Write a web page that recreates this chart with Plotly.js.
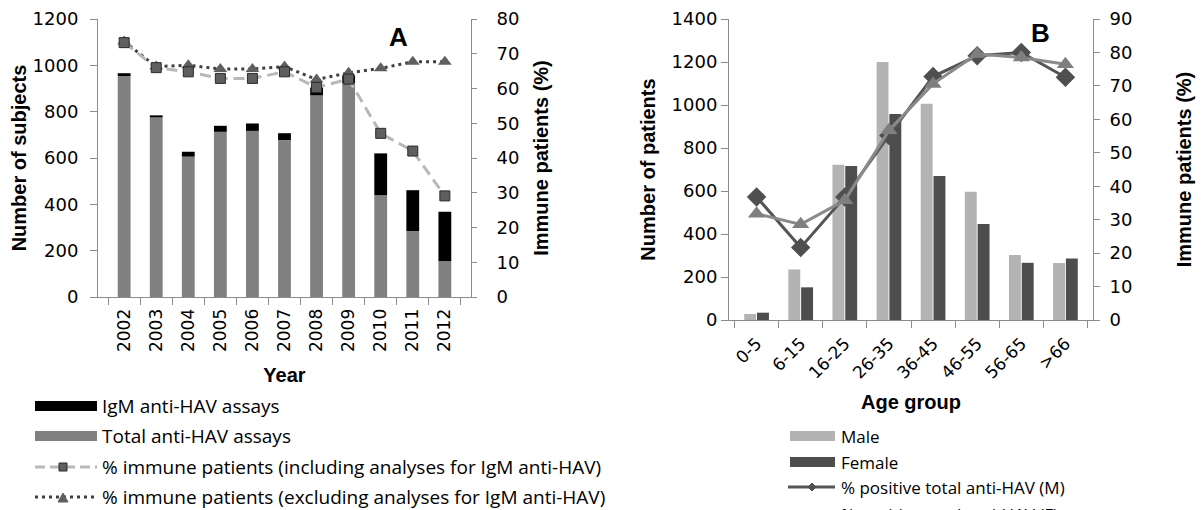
<!DOCTYPE html>
<html>
<head>
<meta charset="utf-8">
<script src="https://cdn.plot.ly/plotly-3.0.1.min.js"></script>
<style>html,body{margin:0;padding:0;background:#fff;}#chart{width:1204px;height:510px;}</style>
</head>
<body>
<div id="chart"></div>
<script>
// ---- Panel A data ----
const years = ['2002','2003','2004','2005','2006','2007','2008','2009','2010','2011','2012'];
const totalAssays = [954, 775, 606, 713, 717, 677, 870, 924, 440, 285, 155];
const igmAssays = [12, 9, 21, 26, 32, 30, 34, 30, 180, 176, 213];
const immuneIncl = [73.2, 66.0, 64.8, 62.9, 62.9, 64.8, 60.3, 62.7, 47.1, 42.0, 29.1];
const immuneExcl = [73.5, 66.3, 66.7, 65.6, 65.6, 66.3, 62.6, 64.5, 65.8, 67.7, 67.7];

// ---- Panel B data ----
const ageGroups = ['0-5','6-15','16-25','26-35','36-45','46-55','56-65','>66'];
const male = [28, 235, 722, 1200, 1006, 596, 302, 265];
const female = [34, 152, 716, 958, 670, 447, 266, 286];
const posMale = [36.8, 21.7, 36.8, 55.2, 72.8, 79.0, 80.0, 72.6];
const posFemale = [31.8, 28.6, 35.8, 56.7, 70.6, 79.5, 78.5, 76.5];

const W = 1204, H = 510;
const px = x => x / W;
const py = y => 1 - y / H;

const tickFont = {family: 'DejaVu Sans', size: 18, color: '#000'};
const titleFont = {family: 'Liberation Sans', size: 20, color: '#000', weight: 'bold'};
const legFontA = {family: 'Open Sans', size: 19, color: '#000'};
const legFontB = {family: 'Open Sans', size: 17, color: '#000'};
const axCol = '#8c8c8c';

const traces = [
  {type: 'bar', x: years, y: totalAssays, width: 0.4, marker: {color: '#808080'},
   xaxis: 'x', yaxis: 'y', name: 'Total anti-HAV assays', showlegend: false, hoverinfo: 'skip'},
  {type: 'bar', x: years, y: igmAssays, base: totalAssays, width: 0.4, marker: {color: '#000000'},
   xaxis: 'x', yaxis: 'y', name: 'IgM anti-HAV assays', showlegend: false, hoverinfo: 'skip'},
  {type: 'scatter', mode: 'lines+markers', x: years, y: immuneExcl, xaxis: 'x', yaxis: 'y2',
   line: {color: '#404040', width: 3, dash: '3px,4px'},
   marker: {symbol: 'triangle-up', size: 12, color: '#5f5f5f'},
   name: '% immune patients (excluding analyses for IgM anti-HAV)', showlegend: false},
  {type: 'scatter', mode: 'lines+markers', x: years, y: immuneIncl, xaxis: 'x', yaxis: 'y2',
   line: {color: '#b8b8b8', width: 3, dash: '11px,6px'},
   marker: {symbol: 'square', size: 10, color: '#5f5f5f', line: {color: '#2a2a2a', width: 1}},
   name: '% immune patients (including analyses for IgM anti-HAV)', showlegend: false},

  {type: 'bar', x: ageGroups, y: male, width: 0.27, offset: -0.28, marker: {color: '#b3b3b3'},
   xaxis: 'x2', yaxis: 'y3', name: 'Male', showlegend: false},
  {type: 'bar', x: ageGroups, y: female, width: 0.27, offset: 0.01, marker: {color: '#4d4d4d'},
   xaxis: 'x2', yaxis: 'y3', name: 'Female', showlegend: false},
  {type: 'scatter', mode: 'lines+markers', x: ageGroups, y: posMale, xaxis: 'x2', yaxis: 'y4',
   line: {color: '#555555', width: 3}, marker: {symbol: 'diamond', size: 15, color: '#4f4f4f'},
   name: '% positive total anti-HAV (M)', showlegend: false},
  {type: 'scatter', mode: 'lines+markers', x: ageGroups, y: posFemale, xaxis: 'x2', yaxis: 'y4',
   line: {color: '#8a8a8a', width: 3}, marker: {symbol: 'triangle-up', size: 15, color: '#7f7f7f'},
   name: '% positive total anti-HAV (F)', showlegend: false}
];

function yAx(extra) {
  return Object.assign({showline: true, linecolor: axCol, linewidth: 1, ticks: 'outside', ticklen: 7,
    tickcolor: axCol, showgrid: false, zeroline: false, tickfont: tickFont, fixedrange: true}, extra);
}
function xAx(extra) {
  return Object.assign({type: 'category', showline: true, linecolor: axCol, linewidth: 1, ticks: 'outside',
    ticklen: 7, tickcolor: axCol, tickson: 'boundaries', showgrid: false, zeroline: false, fixedrange: true}, extra);
}

const shapes = [];
const annotations = [];
function rect(x0, x1, y0, y1, color) {
  shapes.push({type: 'rect', xref: 'paper', yref: 'paper', x0: px(x0), x1: px(x1), y0: py(y1), y1: py(y0),
    fillcolor: color, line: {width: 0}});
}
function hline(x0, x1, y, color, dash) {
  shapes.push({type: 'line', xref: 'paper', yref: 'paper', x0: px(x0), x1: px(x1), y0: py(y), y1: py(y),
    line: {color: color, width: 3, dash: dash}});
}
function poly(pts, fill, lc) {
  const d = 'M' + pts.map(p => px(p[0]) + ',' + py(p[1])).join('L') + 'Z';
  shapes.push({type: 'path', xref: 'paper', yref: 'paper', path: d, fillcolor: fill,
    line: {color: lc || fill, width: 1}});
}
function text(x, y, t, font, anchor) {
  annotations.push({xref: 'paper', yref: 'paper', x: px(x), y: py(y), text: t, showarrow: false,
    xanchor: anchor || 'left', yanchor: 'middle', font: font});
}

// Legend A
rect(35, 97, 401, 411, '#000000');
text(100, 406, 'IgM anti-HAV assays', legFontA);
rect(35, 97, 431, 441, '#808080');
text(100, 436, 'Total anti-HAV assays', legFontA);
hline(35, 97, 467, '#b8b8b8', '10px,5px');
poly([[59, 463], [67, 463], [67, 471], [59, 471]], '#5f5f5f', '#2a2a2a');
text(100, 467, '% immune patients (including analyses for IgM anti-HAV)', legFontA);
hline(35, 97, 497, '#404040', '3px,4px');
poly([[58, 502], [68, 502], [63, 493]], '#5f5f5f');
text(100, 497, '% immune patients (excluding analyses for IgM anti-HAV)', legFontA);

// Legend B
rect(790, 835, 431, 441, '#b3b3b3');
text(839, 436, 'Male', legFontB);
rect(790, 835, 457, 467, '#4d4d4d');
text(839, 462, 'Female', legFontB);
hline(788, 835, 487, '#555555', 'solid');
poly([[812, 483], [816, 487], [812, 491], [808, 487]], '#4f4f4f');
text(839, 487, '% positive total anti-HAV (M)', legFontB);
hline(788, 835, 514, '#8a8a8a', 'solid');
poly([[808, 517], [816, 517], [812, 510]], '#7f7f7f');
text(839, 514, '% positive total anti-HAV (F)', legFontB);

// Panel labels
text(398, 37, '<b>A</b>', {family: 'Liberation Sans', size: 26, color: '#000'}, 'center');
text(1040, 33, '<b>B</b>', {family: 'Liberation Sans', size: 26, color: '#000'}, 'center');

const layout = {
  width: W, height: H,
  margin: {l: 0, r: 0, t: 0, b: 0},
  paper_bgcolor: '#fff', plot_bgcolor: 'rgba(0,0,0,0)',
  barmode: 'overlay',
  showlegend: false,
  xaxis: xAx({domain: [px(98), px(471)], anchor: 'y', tickangle: -90, ticklabelstandoff: 4,
    tickfont: {family: 'DejaVu Sans', size: 17, color: '#000'},
    title: {text: 'Year', font: titleFont, standoff: 16}}),
  yaxis: yAx({domain: [py(297), py(19)], range: [0, 1200], dtick: 200, anchor: 'x',
    ticklabelstandoff: 8,
    title: {text: 'Number of subjects', font: titleFont, standoff: 0}}),
  yaxis2: yAx({overlaying: 'y', side: 'right', range: [0, 80], dtick: 10, anchor: 'x', ticklen: 5,
    ticklabelstandoff: 16,
    title: {text: 'Immune patients (%)', font: titleFont, standoff: 15}}),
  xaxis2: xAx({domain: [px(729), px(1093)], anchor: 'y3', tickangle: -45, ticklabelstandoff: 6,
    tickfont: {family: 'DejaVu Sans', size: 17, color: '#000'},
    title: {text: 'Age group', font: titleFont, standoff: 13}}),
  yaxis3: yAx({domain: [py(320), py(19)], range: [0, 1400], dtick: 200, anchor: 'x2',
    title: {text: 'Number of patients', font: titleFont, standoff: 10}}),
  yaxis4: yAx({overlaying: 'y3', side: 'right', range: [0, 90], dtick: 10, anchor: 'x2', ticklen: 6,
    ticklabelstandoff: 6,
    title: {text: 'Immune patients (%)', font: titleFont, standoff: 45}}),
  shapes: shapes,
  annotations: annotations
};

Plotly.newPlot('chart', traces, layout, {staticPlot: true, displayModeBar: false});
</script>
</body>
</html>
